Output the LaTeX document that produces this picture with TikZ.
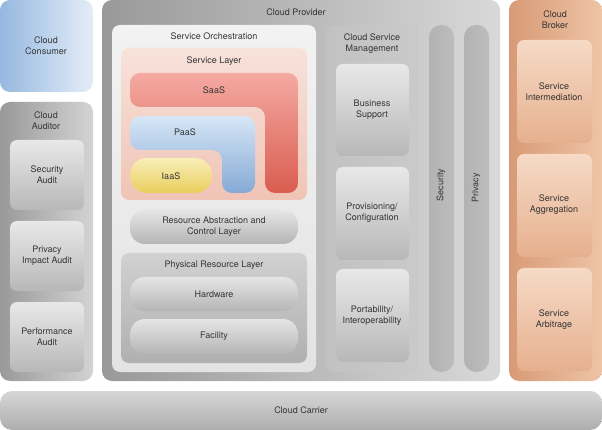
\documentclass[tikz,border=0pt]{standalone}
\usepackage{fontspec}
\setmainfont{TeX Gyre Heros}
\usepackage{tikz}
\usetikzlibrary{calc}
\definecolor{txt}{HTML}{353535}
\newcommand{\greybox}{\shade[rounded corners=7pt, top color=black!9, bottom color=black!28]}
\newcommand{\greypill}{\shade[rounded corners=15pt, top color=black!10, middle color=black!6, bottom color=black!29]}
\newcommand{\brokerbox}{\shade[rounded corners=7pt, top color={rgb,255:red,246;green,218;blue,198}, bottom color={rgb,255:red,230;green,176;blue,142}]}
\tikzset{
    lbl/.style={font=\fontsize{9}{10.8}\selectfont, text=txt, align=center, inner sep=0pt}
}

\begin{document}
\begin{tikzpicture}[x=1pt, y=-1pt]
    \useasboundingbox (0,0) rectangle (602,430);

    % Consumer
    \shade[rounded corners=10pt, left color={rgb,255:red,150;green,184;blue,224}, right color={rgb,255:red,228;green,237;blue,248}] (0,0) rectangle (93,92);
    \node[lbl] (consumer) at (46,46) {Cloud\\Consumer};

    % Auditor
    \shade[rounded corners=10pt, left color=black!40, right color=black!17] (0,102) rectangle (93,381);
    \node[lbl] (auditor) at (46,121) {Cloud\\Auditor};
    \greybox (10,140) rectangle (84,210);
    \greybox (10,221) rectangle (84,291);
    \greybox (10,302) rectangle (84,372);
    \node[lbl] (secaudit) at (47,175) {Security\\Audit};
    \node[lbl] (privaudit) at (47,256) {Privacy\\Impact Audit};
    \node[lbl] (perfaudit) at (47,337) {Performance\\Audit};

    % Provider
    \shade[rounded corners=10pt, left color=black!40, right color=black!15] (102,0) rectangle (500,381);
    \node[lbl] (provider) at (296,12) {Cloud Provider};

    % Service orchestration
    \shade[rounded corners=8pt, top color=black!5, bottom color=black!11] (112,25) rectangle (316,372);
    \node[lbl] (orch) at (214,36) {Service Orchestration};

    \shade[rounded corners=8pt, top color={rgb,255:red,248;green,226;blue,218}, bottom color={rgb,255:red,240;green,196;blue,182}] (121,48) rectangle (307,200);
    \node[lbl] (svclayer) at (214,61) {Service Layer};

    \shade[rounded corners=10pt, top color={rgb,255:red,244;green,170;blue,162}, bottom color={rgb,255:red,218;green,92;blue,80}]
        (130,73) -- (298,73) -- (298,193) -- (265,193) -- (265,107) -- (130,107) -- cycle;
    \shade[rounded corners=10pt, top color={rgb,255:red,214;green,230;blue,246}, bottom color={rgb,255:red,134;green,170;blue,214}]
        (130,116) -- (255,116) -- (255,193) -- (222,193) -- (222,150) -- (130,150) -- cycle;
    \shade[rounded corners=17pt, top color={rgb,255:red,249;green,238;blue,185}, bottom color={rgb,255:red,233;green,206;blue,92}] (130,158) rectangle (212,193);
    \node[lbl] (saas) at (214,90) {SaaS};
    \node[lbl] (paas) at (185,132) {PaaS};
    \node[lbl] (iaas) at (171,176) {IaaS};

    \greypill (130,210) rectangle (298,244);
    \node[lbl] (rac) at (214,227) {Resource Abstraction and\\Control Layer};

    \shade[rounded corners=8pt, top color=black!18, bottom color=black!31] (121,253) rectangle (307,363);
    \node[lbl] (physical) at (214,265) {Physical Resource Layer};
    \greypill (130,277) rectangle (298,311);
    \greypill (130,319) rectangle (298,354);
    \node[lbl] (hardware) at (214,294) {Hardware};
    \node[lbl] (facility) at (214,336) {Facility};

    % Management
    \shade[rounded corners=8pt, left color=black!24, middle color=black!12, right color=black!21] (326,25) rectangle (418,372);
    \node[lbl] (mgmt) at (372,44) {Cloud Service\\Management};
    \greybox (336,64) rectangle (409,156);
    \greybox (336,167) rectangle (409,260);
    \greybox (336,269) rectangle (409,362);
    \node[lbl] (business) at (372,110) {Business\\Support};
    \node[lbl] (provisioning) at (372,213) {Provisioning/\\Configuration};
    \node[lbl] (portability) at (372,316) {Portability/\\Interoperability};

    % Security and privacy
    \shade[rounded corners=12pt, left color=black!30, middle color=black!8, right color=black!26] (429,25) rectangle (454,372);
    \shade[rounded corners=12pt, left color=black!30, middle color=black!8, right color=black!26] (464,25) rectangle (489,372);
    \node[lbl, rotate=90] (security) at (441,185) {Security};
    \node[lbl, rotate=90] (privacy) at (476,188) {Privacy};

    % Broker
    \shade[rounded corners=10pt, left color={rgb,255:red,216;green,154;blue,118}, right color={rgb,255:red,238;green,196;blue,166}] (509,0) rectangle (602,381);
    \node[lbl] (broker) at (555,20) {Cloud\\Broker};
    \brokerbox (517,40) rectangle (592,143);
    \brokerbox (517,154) rectangle (592,257);
    \brokerbox (517,268) rectangle (592,371);
    \node[lbl] (intermed) at (554,92) {Service\\Intermediation};
    \node[lbl] (aggreg) at (554,205) {Service\\Aggregation};
    \node[lbl] (arbit) at (554,320) {Service\\Arbitrage};

    % Carrier
    \shade[rounded corners=12pt, top color=black!16, middle color=black!12, bottom color=black!32] (0,391) rectangle (602,430);
    \node[lbl] (carrier) at (301,410) {Cloud Carrier};
\end{tikzpicture}
\end{document}
